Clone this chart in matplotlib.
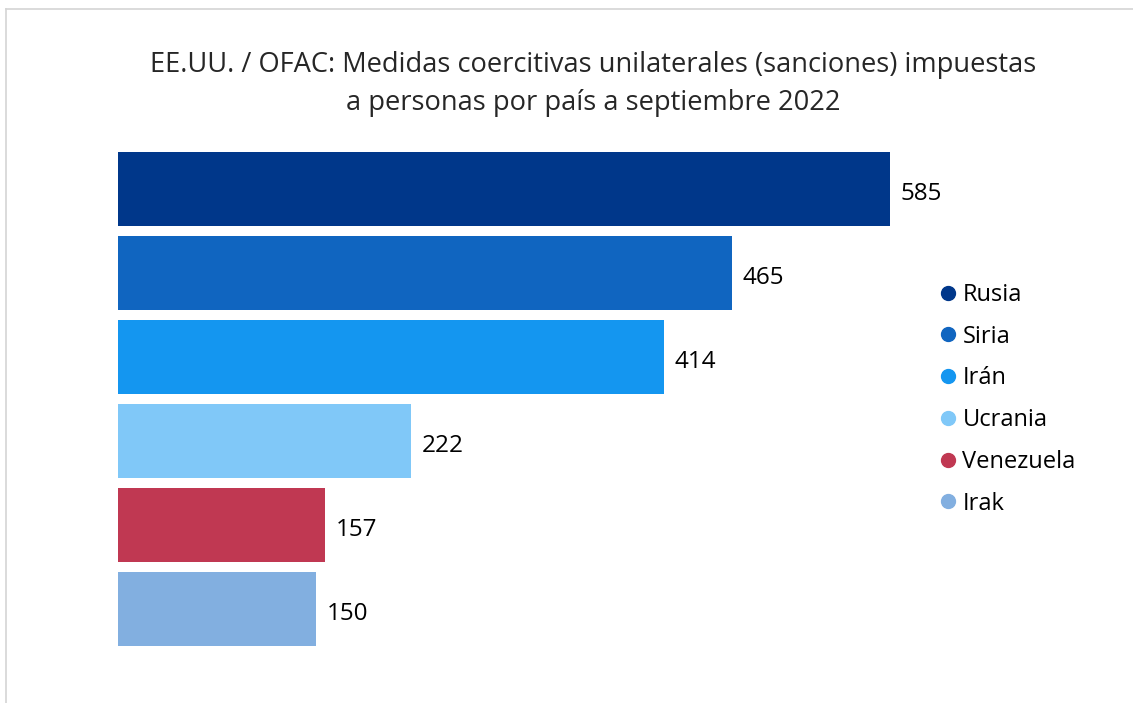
import matplotlib
matplotlib.use("Agg")
import matplotlib.pyplot as plt
from matplotlib.lines import Line2D

plt.rcParams["font.family"] = ["Open Sans", "DejaVu Sans"]

# data
paises = ["Rusia", "Siria", "Irán", "Ucrania", "Venezuela", "Irak"]
valores = [585, 465, 414, 222, 157, 150]
colores = ["#00378a", "#1065c0", "#1496f0", "#80c8f8", "#c03852", "#82afe0"]
titulo = ("EE.UU. / OFAC: Medidas coercitivas unilaterales (sanciones) impuestas\n"
          "a personas por país a septiembre 2022")

W, H = 1133, 703
fig = plt.figure(figsize=(W / 100, H / 100), dpi=100)

# axes placed in pixel terms: bars start at x=118, longest ends at x=890
ax = fig.add_axes([118 / W, (H - 651) / H, (890 - 118) / W, 504 / H])
ypos = list(range(len(paises)))
ax.barh(ypos, valores, height=0.88, color=colores)
ax.set_xlim(0, max(valores))
ax.set_ylim(len(paises) - 0.5, -0.5)
for y, v in zip(ypos, valores):
    ax.text(v + 8, y + 0.06, f"{v}", va="center", ha="left", fontsize=17.5,
            color="black", clip_on=False)
ax.set_axis_off()

handles = [Line2D([], [], marker="o", linestyle="none", markersize=10,
                  markerfacecolor=c, markeredgecolor=c) for c in colores]
fig.legend(handles, paises, loc="upper left",
           bbox_to_anchor=(940 / W, 1 - 283 / H), frameon=False,
           fontsize=17, handlelength=0.7, handletextpad=0.25,
           labelspacing=0.75, borderaxespad=0, borderpad=0)

fig.text(593 / W, 1 - 84 / H, titulo, ha="center", va="center",
         fontsize=19.6, color="#262626", linespacing=1.45)

# thin grey frame on the left and top edges
fig.add_artist(Line2D([6 / W, 6 / W], [0, 1 - 9 / H], transform=fig.transFigure,
                      color="#d4d4d4", linewidth=1.2))
fig.add_artist(Line2D([6 / W, 1], [1 - 9 / H, 1 - 9 / H], transform=fig.transFigure,
                      color="#d4d4d4", linewidth=1.2))

fig.savefig("out.png", dpi=100, facecolor="white")
